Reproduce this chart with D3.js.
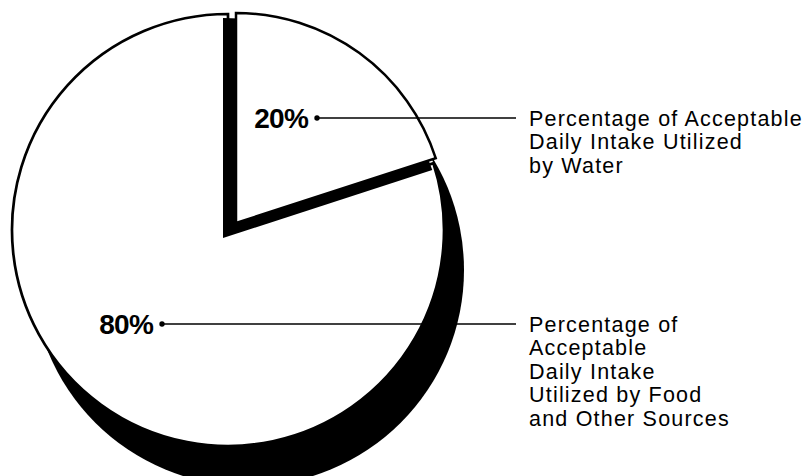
<!DOCTYPE html>
<html lang="en">
<head>
    <meta charset="UTF-8">
    <title>Acceptable Daily Intake</title>
    <style>
        body { margin: 0; background: #fff; }
        svg { display: block; }
        text { font-family: "Liberation Sans", Arial, Helvetica, sans-serif; fill: #000; }
    </style>
</head>
<script src="https://cdn.jsdelivr.net/npm/d3@7"></script>
<body>
</body>
<script>
    // data
    var categories = ['Water', 'Food and Other Sources']
    var values = [20, 80]
    var pctLabels = ['20%', '80%']
    var descLines = [
        ['Percentage of Acceptable', 'Daily Intake Utilized', 'by Water'],
        ['Percentage of', 'Acceptable', 'Daily Intake', 'Utilized by Food', 'and Other Sources']
    ]

    var width = 809
        height = 476
        center = {x: 228, y: 230}
        radius = 216
        shadowOff = {x: 20, y: 40}     // drop shadow of the whole pie
        sideOff = {x: -5, y: 8}        // dark side of the lifted slice
        liftOff = {x: 8, y: -7}        // lifted slice top
        liftRadius = 210
        // label anchors (dot) and text column
        dots = [{x: 317, y: 118}, {x: 162, y: 324}]
        textX = 529
        lineEnd = 516
        lineStep = 23.6

    var svg = d3.select('body')
        .append('svg')
        .attr('width', width)
        .attr('height', height)

    var pie = d3.pie().sort(null).value(d => d)
    var slices = pie(values)
    var arc = d3.arc().innerRadius(0).outerRadius(radius)

    // shadow: full circle behind everything
    svg.append('path')
        .attr('transform', `translate(${center.x + shadowOff.x}, ${center.y + shadowOff.y})`)
        .attr('d', arc({startAngle: 0, endAngle: 2 * Math.PI}))
        .attr('fill', '#000')

    // base pie (both slices white so the shadow does not show through)
    svg.selectAll('.base')
        .data(slices)
        .enter()
        .append('path')
        .attr('class', 'base')
        .attr('transform', `translate(${center.x}, ${center.y})`)
        .attr('d', arc)
        .attr('fill', '#fff')
        .attr('stroke', d => d.index === 1 ? '#000' : 'none')
        .attr('stroke-width', 2.7)

    // lifted slice: dark side then white top
    var lifted = slices[0]
    svg.append('path')
        .attr('transform', `translate(${center.x + sideOff.x}, ${center.y + sideOff.y})`)
        .attr('d', d3.arc().innerRadius(0).outerRadius(radius + 4)(lifted))
        .attr('fill', '#000')

    svg.append('path')
        .attr('transform', `translate(${center.x + liftOff.x}, ${center.y + liftOff.y})`)
        .attr('d', d3.arc().innerRadius(0).outerRadius(liftRadius)(lifted))
        .attr('fill', '#fff')
        .attr('stroke', '#000')
        .attr('stroke-width', 2.5)
        .attr('stroke-linejoin', 'miter')

    // leaders
    var labels = svg.selectAll('.label')
        .data(slices)
        .enter()
        .append('g')
        .attr('class', 'label')

    labels.append('line')
        .attr('x1', (d, i) => dots[i].x)
        .attr('y1', (d, i) => dots[i].y)
        .attr('x2', lineEnd)
        .attr('y2', (d, i) => dots[i].y)
        .attr('stroke', '#000')
        .attr('stroke-width', 1.5)

    labels.append('circle')
        .attr('cx', (d, i) => dots[i].x)
        .attr('cy', (d, i) => dots[i].y)
        .attr('r', 2.7)
        .attr('fill', '#000')

    labels.append('text')
        .attr('x', (d, i) => dots[i].x - 9)
        .attr('y', (d, i) => dots[i].y + 10)
        .attr('text-anchor', 'end')
        .attr('font-weight', 'bold')
        .attr('font-size', 28)
        .attr('letter-spacing', -0.8)
        .text((d, i) => pctLabels[i])

    labels.append('text')
        .attr('x', textX)
        .attr('y', (d, i) => dots[i].y + 7.5)
        .attr('font-size', 21.5)
        .attr('letter-spacing', 1.2)
        .selectAll('tspan')
        .data((d, i) => descLines[i])
        .enter()
        .append('tspan')
        .attr('x', textX)
        .attr('dy', (d, j) => j === 0 ? 0 : lineStep)
        .text(d => d)
</script>
</html>
